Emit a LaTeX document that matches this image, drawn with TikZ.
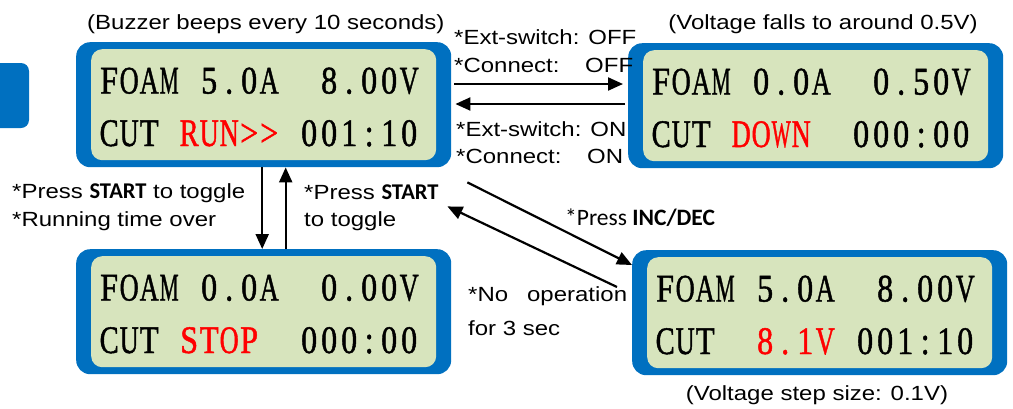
\documentclass[tikz,border=0pt]{standalone}
\usepackage{fontspec}
\usepackage{graphicx}
\usetikzlibrary{arrows.meta,calc}
\newfontfamily\arialf[FakeStretch=1.17]{Liberation Sans}
\newfontfamily\calf{Carlito}
\newfontfamily\lcdfont[FakeStretch=0.82,FakeBold=1.2]{Liberation Serif}
\definecolor{lcdblue}{RGB}{0,112,192}
\definecolor{lcdgreen}{RGB}{215,228,189}
\definecolor{lcdred}{RGB}{255,0,0}
\newsavebox\lcdsbox
\newcommand\lcdcell[1]{\sbox\lcdsbox{#1}%
  \ifdim\wd\lcdsbox>19pt\relax
    \makebox[20pt]{\resizebox{19pt}{\height}{\usebox\lcdsbox}}%
  \else
    \makebox[20pt]{\usebox\lcdsbox}%
  \fi}
\def\lcddo#1{\ifx_#1\makebox[20pt]{}\else\ifx!#1\color{lcdred}\else\ifx|#1\color{black}\else\lcdcell{#1}\fi\fi\fi}
\def\lcdloop#1{\ifx\relax#1\else\lcddo{#1}\expandafter\lcdloop\fi}
\def\lcdrow#1{\lcdloop#1\relax}
\tikzset{
  lcdouter/.style={draw=none, fill=lcdblue, rounded corners=14pt, minimum width=375pt, minimum height=125pt, inner sep=0pt, anchor=north west},
  lcdinner/.style={draw=none, fill=lcdgreen, rounded corners=11pt, minimum width=345pt, minimum height=111pt, inner sep=0pt},
  lcdtext/.style={anchor=base west, inner sep=0pt, font=\lcdfont\fontsize{39}{39}\selectfont},
  lbl/.style={anchor=base west, inner sep=0pt, font=\arialf\fontsize{20.5}{24}\selectfont},
  arr/.style={line width=2.2pt, -{Triangle[length=15pt,width=13pt]}}
}
\begin{document}
\begin{tikzpicture}[x=1pt,y=-1pt]
\path[use as bounding box] (0,0) rectangle (1013,408);
% partial box at left edge
\fill[lcdblue, rounded corners=8pt] (-30,63) rectangle (29,128);
% LCD boxes
\node[lcdouter] (b1) at (76,42) {};
\node[lcdinner] (b1i) at (b1.center) {};
\node[lcdtext] (b1r1) at ($(b1.north west)+(23,51.5)$) {\lcdrow{FOAM_5.0A__8.00V}};
\node[lcdtext] (b1r2) at ($(b1.north west)+(23,104)$) {\lcdrow{CUT_!RUN>>|_001:10}};

\node[lcdouter] (b2) at (628,43) {};
\node[lcdinner] (b2i) at (b2.center) {};
\node[lcdtext] (b2r1) at ($(b2.north west)+(23,51.5)$) {\lcdrow{FOAM_0.0A__0.50V}};
\node[lcdtext] (b2r2) at ($(b2.north west)+(23,104)$) {\lcdrow{CUT_!DOWN|__000:00}};

\node[lcdouter] (b3) at (76,249) {};
\node[lcdinner] (b3i) at (b3.center) {};
\node[lcdtext] (b3r1) at ($(b3.north west)+(23,51.5)$) {\lcdrow{FOAM_0.0A__0.00V}};
\node[lcdtext] (b3r2) at ($(b3.north west)+(23,104)$) {\lcdrow{CUT_!STOP|__000:00}};

\node[lcdouter] (b4) at (632,250) {};
\node[lcdinner] (b4i) at (b4.center) {};
\node[lcdtext] (b4r1) at ($(b4.north west)+(23,51.5)$) {\lcdrow{FOAM_5.0A__8.00V}};
\node[lcdtext] (b4r2) at ($(b4.north west)+(23,104)$) {\lcdrow{CUT__!8.1V|_001:10}};

% connectors
\draw[arr] ($(b1.north east)+(3,42)$) -- ($(b2.north west)+(-5,41)$);
\draw[arr] ($(b2.north west)+(-3,61)$) -- ($(b1.north east)+(4,62)$);
\draw[arr] ($(b1.south)+(-1.5,0)$) -- ($(b3.north)+(-1.5,0)$);
\draw[arr] ($(b3.north)+(22,0)$) -- ($(b1.south)+(22,0)$);
\draw[arr] ($(b1.south east)+(16,15)$) -- ($(b4.north west)+(0,15)$);
\draw[arr] ($(b4.north west)+(-15,37)$) -- ($(b1.south east)+(-4,39)$);

% labels
\node[lbl] (tbuzz) at (87,29.5) {(Buzzer beeps every 10 seconds)};
\node[lbl, anchor=base] (tvfall) at (823,29.5) {(Voltage falls to around 0.5V)};
\node[lbl] (toff1) at (454,44.3) {*Ext-switch: OFF};
\node[lbl] (toff2) at (454,72) {\hbox to 179pt{*Connect:\hfill OFF}};
\node[lbl] (ton1) at (456,136.7) {*Ext-switch: ON};
\node[lbl] (ton2) at (456,163.3) {\hbox to 167pt{*Connect:\hfill ON}};
\node[lbl] (tpress1) at (12,198) {*Press {\calf\bfseries\fontsize{22.5}{24}\selectfont START} to toggle};
\node[lbl] (trun) at (12,226.5) {*Running time over};
\node[lbl] (tpress2) at (304,199) {*Press {\calf\bfseries\fontsize{22.5}{24}\selectfont START}};
\node[lbl] (ttog) at (304,226.5) {to toggle};
\node[lbl, font=\calf\fontsize{23.5}{24}\selectfont] (tinc) at (565,225.7) {*Press {\bfseries INC/DEC}};
\node[lbl] (tnoop) at (468,301) {\hbox to 159pt{*No\hfill operation}};
\node[lbl] (tfor) at (468,335) {for 3 sec};
\node[lbl, anchor=base] (tstep) at (817,400) {(Voltage step size: 0.1V)};
\end{tikzpicture}
\end{document}
